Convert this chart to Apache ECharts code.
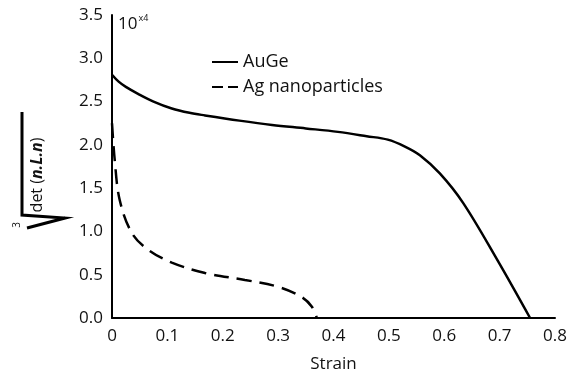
<!DOCTYPE html>
<html>
<head>
<meta charset="UTF-8">
<title>det vs strain</title>
<script type="text/javascript" src="https://cdn.jsdelivr.net/npm/echarts@6/dist/echarts.min.js"></script>
<style>html,body{margin:0;padding:0;background:#fff;}</style>
</head>
<body>
<div id="main" style="width:570px;height:373px;"></div>
<script type="text/javascript">
// strain values and cube-root det values (x 10^4)
var auGeStrain = [0, 0.012, 0.025, 0.047, 0.075, 0.108, 0.14, 0.168, 0.23, 0.289, 0.35, 0.408, 0.46, 0.498, 0.529, 0.556, 0.592, 0.634, 0.695, 0.755];
var auGeDet    = [2.81, 2.73, 2.67, 2.59, 2.50, 2.42, 2.37, 2.34, 2.28, 2.23, 2.19, 2.15, 2.10, 2.06, 1.98, 1.88, 1.67, 1.33, 0.68, 0];
var agStrain = [0, 0.005, 0.014, 0.036, 0.065, 0.108, 0.168, 0.24, 0.30, 0.343, 0.361, 0.37];
var agDet    = [2.25, 1.82, 1.36, 0.98, 0.79, 0.64, 0.52, 0.44, 0.36, 0.24, 0.13, 0];
var seriesNames = ['AuGe', 'Ag nanoparticles'];

function pairs(xs, ys) {
  var out = [];
  for (var i = 0; i < xs.length; i++) out.push([xs[i], ys[i]]);
  return out;
}

var font = '"Open Sans", sans-serif';
var myChart = echarts.init(document.getElementById('main'));
var option = {
  animation: false,
  grid: { left: 112, right: 15, top: 15, bottom: 55, outerBoundsMode: 'none' },
  xAxis: {
    type: 'value', min: 0, max: 0.8, interval: 0.1,
    axisLine: { show: true, lineStyle: { color: '#000', width: 2 } },
    axisTick: { show: false },
    splitLine: { show: false },
    axisLabel: {
      color: '#111', fontSize: 17, fontFamily: font, margin: 10,
      formatter: function (v) { return v === 0 ? '0' : v.toFixed(1); }
    },
    name: 'Strain', nameLocation: 'middle', nameGap: 38,
    nameTextStyle: { color: '#111', fontSize: 17, fontFamily: font }
  },
  yAxis: {
    type: 'value', min: 0, max: 3.5, interval: 0.5,
    axisLine: { show: true, lineStyle: { color: '#000', width: 2 } },
    axisTick: { show: false },
    splitLine: { show: false },
    axisLabel: {
      color: '#111', fontSize: 17, fontFamily: font, margin: 9,
      formatter: function (v) { return v.toFixed(1); }
    }
  },
  legend: {
    orient: 'vertical', left: 206, top: 48, itemWidth: 26, itemHeight: 14, itemGap: 7,
    itemStyle: { opacity: 0 },
    textStyle: { color: '#111', fontSize: 18, fontFamily: font },
    data: [seriesNames[0], { name: seriesNames[1], lineStyle: { type: [11, 5] } }]
  },
  series: [{
    name: seriesNames[0], type: 'line', symbol: 'none', smooth: 0.35,
    lineStyle: { color: '#000', width: 2.5, type: 'solid' },
    itemStyle: { color: '#000' },
    data: pairs(auGeStrain, auGeDet)
  }, {
    name: seriesNames[1], type: 'line', symbol: 'none', smooth: 0.35,
    lineStyle: { color: '#000', width: 2.5, type: [15, 8] },
    itemStyle: { color: '#000' },
    data: pairs(agStrain, agDet)
  }],
  graphic: [{
    type: 'text', left: 118, top: 14,
    style: {
      text: '{b|10}{s|x4}',
      rich: {
        b: { fontSize: 17, fontFamily: font, fill: '#111' },
        s: { fontSize: 9, fontFamily: font, fill: '#111', verticalAlign: 'top', padding: [0, 0, 12, 1] }
      }
    }
  }, {
    // rotated y-axis title
    type: 'text', x: 37, y: 175, rotation: Math.PI / 2,
    style: {
      text: '{r|det (}{i|n.L.n}{r|)}',
      align: 'center', verticalAlign: 'middle',
      rich: {
        r: { fontSize: 16, fontFamily: font, fill: '#111' },
        i: { fontSize: 16, fontFamily: font, fill: '#111', fontWeight: 'bold', fontStyle: 'italic' }
      }
    }
  }, {
    // radical sign, rotated
    type: 'polyline',
    shape: { points: [[22, 112], [22, 215], [65, 218], [27, 228]] },
    style: { stroke: '#000', lineWidth: 3, fill: null }
  }, {
    type: 'text', x: 17, y: 225, rotation: Math.PI / 2,
    style: { text: '3', fontSize: 10, fontFamily: font, fill: '#111', align: 'center', verticalAlign: 'middle' }
  }]
};
myChart.setOption(option);
</script>
</body>
</html>
